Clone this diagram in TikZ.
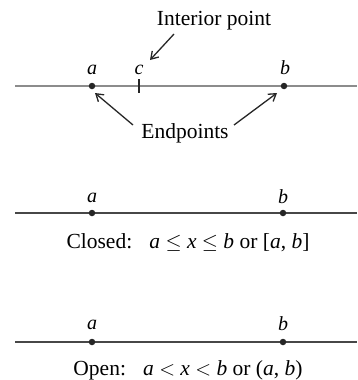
\documentclass[tikz,border=0pt]{standalone}
\usepackage{fontspec}
\setmainfont{Liberation Serif}
\usetikzlibrary{arrows.meta}
\begin{document}
\begin{tikzpicture}[x=1pt,y=-1pt,
  txt/.style={inner sep=0pt,font=\fontsize{21.5}{24}\selectfont},
  lbl/.style={inner sep=0pt,font=\fontsize{20}{22}\selectfont\itshape},
  dotpt/.style={circle,fill=black!85,inner sep=0pt,minimum size=6.5pt},
  axisg/.style={line width=2.6pt,draw=black!45},
  axisd/.style={line width=2.6pt,draw=black!72},
  arr/.style={line width=1.3pt,draw=black!85,-{Straight Barb[length=7pt,width=9pt]}}]
\useasboundingbox (0,0) rectangle (357,380);
% ---------- top line
\coordinate (L1) at (15,86);
\coordinate (R1) at (357,86);
\draw[axisg] (L1) -- (R1);
\node[dotpt] (a1) at (92,86) {};
\node[dotpt] (b1) at (284,86) {};
\coordinate (ct) at (139,79);
\coordinate (cb) at (139,93);
\draw[line width=1.4pt,black!85] (ct) -- (cb);
\node[lbl] (la1) at (92,70) {a};
\node[lbl] (lc1) at (139,70) {c};
\node[lbl] (lb1) at (285,68) {b};
\node[txt] (int) at (214,21) {Interior point};
\coordinate (i0) at (174,34);
\coordinate (i1) at (150,60);
\draw[arr] (i0) -- (i1);
\node[txt] (end) at (185,133) {Endpoints};
\coordinate (e0) at (133,125);
\coordinate (e1) at (95,93);
\coordinate (f0) at (234,125);
\coordinate (f1) at (277,93);
\draw[arr] (e0) -- (e1);
\draw[arr] (f0) -- (f1);
% ---------- closed
\coordinate (L2) at (15,213);
\coordinate (R2) at (357,213);
\draw[axisd] (L2) -- (R2);
\node[dotpt] (a2) at (92,213) {};
\node[dotpt] (b2) at (283,213) {};
\node[lbl] (la2) at (92,198) {a};
\node[lbl] (lb2) at (283,197) {b};
\node[txt] (cl) at (188,243) {Closed:\hspace{0.8em}\textit{a} $\leq$ \textit{x} $\leq$ \textit{b} or [\textit{a}, \textit{b}]};
% ---------- open
\coordinate (L3) at (15,342);
\coordinate (R3) at (357,342);
\draw[axisd] (L3) -- (R3);
\node[dotpt] (a3) at (92,342) {};
\node[dotpt] (b3) at (283,342) {};
\node[lbl] (la3) at (92,325) {a};
\node[lbl] (lb3) at (283,324) {b};
\node[txt] (op) at (188,370) {Open:\hspace{0.8em}\textit{a} $<$ \textit{x} $<$ \textit{b} or (\textit{a}, \textit{b})};
\end{tikzpicture}
\end{document}
